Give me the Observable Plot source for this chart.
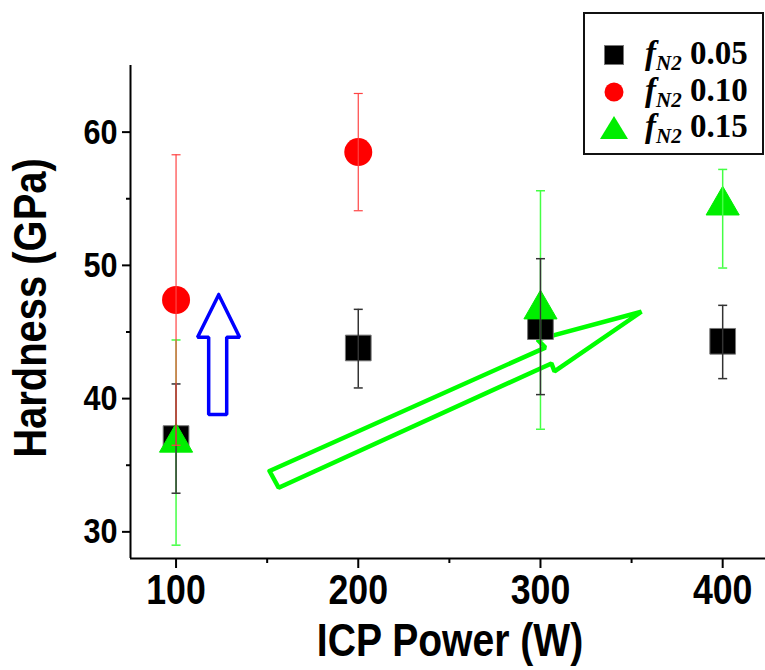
<!DOCTYPE html>
<html>
<head>
<meta charset="utf-8">
<script src="https://cdn.jsdelivr.net/npm/d3@7"></script>
<script src="https://cdn.jsdelivr.net/npm/@observablehq/plot@0.6"></script>
<style>
  html, body { margin: 0; padding: 0; background: #fff; }
  #wrap { position: relative; width: 765px; height: 670px; overflow: hidden; }
  #legend {
    position: absolute; left: 583px; top: 12px; width: 177px; height: 139px;
    border: 2px solid #111; background: #fff;
    font-family: "Liberation Serif", "Times New Roman", serif; font-weight: bold; font-size: 33px;
  }
  .row { position: absolute; left: 0; height: 36px; display: flex; align-items: center; }
  .row svg { width: 40px; height: 36px; margin-left: 9px; }
  .row span { margin-left: 11px; white-space: nowrap; line-height: 1; }
  .row sub { font-size: 21px; font-style: italic; vertical-align: -6px; }
</style>
</head>
<body>
<div id="wrap"></div>
<script>
// ---- data ----
const power005 = [100, 200, 300, 400];
const hard005  = [37.0, 43.8, 45.4, 44.3];
const lo005    = [32.9, 40.8, 40.3, 41.5];
const hi005    = [41.1, 46.7, 50.5, 47.0];

const power010 = [100, 200];
const hard010  = [47.4, 58.5];
const lo010    = [36.5, 54.1];
const hi010    = [58.3, 62.9];

const power015 = [100, 300, 400];
const hard015  = [36.7, 46.7, 54.5];
const lo015    = [29.0, 37.7, 49.8];
const hi015    = [44.4, 55.6, 57.2];

const xMajor = [100, 200, 300, 400];
const xMinor = [150, 250, 350];
const yMajor = [30, 40, 50, 60];
const yMinor = [35, 45, 55];

const seriesLabels = ["0.05", "0.10", "0.15"];

// annotation arrows, in data units (W, GPa)
const blueArrowX = [123.4, 134.9, 127.8, 127.8, 117.9, 117.9, 111.8, 123.4];
const blueArrowY = [47.8, 44.6, 44.6, 38.8, 38.8, 44.6, 44.6, 47.8];
const greenArrowX = [151.3, 302.7, 298.4, 355.4, 307.7, 306.0, 156.3, 151.3];
const greenArrowY = [34.57, 43.83, 44.43, 46.52, 42.04, 42.64, 33.31, 34.57];

// ---- build tables ----
const mk = (xs, ys, lo, hi) => xs.map((x, i) => ({x, y: ys[i], lo: lo[i], hi: hi[i]}));
const s005 = mk(power005, hard005, lo005, hi005);
const s010 = mk(power010, hard010, lo010, hi010);
const s015 = mk(power015, hard015, lo015, hi015);
const blueArrow = blueArrowX.map((x, i) => ({x, y: blueArrowY[i]}));
const greenArrow = greenArrowX.map((x, i) => ({x, y: greenArrowY[i]}));

const cap = { draw(ctx) { ctx.moveTo(-4.5, 0); ctx.lineTo(4.5, 0); } };

const sans = "'Liberation Sans', Arial, Helvetica, sans-serif";

function errMarks(data, color, w) {
  return [
    Plot.ruleX(data, {x: "x", y1: "lo", y2: "hi", stroke: color, strokeWidth: w}),
    Plot.dot(data, {x: "x", y: "lo", symbol: cap, stroke: color, strokeWidth: w, fill: "none", r: 3}),
    Plot.dot(data, {x: "x", y: "hi", symbol: cap, stroke: color, strokeWidth: w, fill: "none", r: 3})
  ];
}

const chart = Plot.plot({
  width: 765,
  height: 670,
  marginLeft: 130,
  marginRight: 0,
  marginTop: 65,
  marginBottom: 112,
  x: {domain: [75, 423.5]},
  y: {domain: [28, 65]},
  style: {background: "white", color: "black", overflow: "visible"},
  marks: [
    // annotations
    Plot.line(greenArrow, {x: "x", y: "y", stroke: "#00ff00", strokeWidth: 4.5, fill: "white", strokeLinejoin: "miter"}),
    Plot.line(blueArrow, {x: "x", y: "y", stroke: "#0000ff", strokeWidth: 3.5, fill: "white", strokeLinejoin: "miter"}),
    // markers
    Plot.dot(s005, {x: "x", y: "y", symbol: "square", r: 14.5, fill: "black", stroke: "#777", strokeWidth: 1}),
    Plot.dot(s010, {x: "x", y: "y", symbol: "circle", r: 14, fill: "#ff0000"}),
    Plot.dot(s015, {x: "x", y: "y", symbol: "triangle", r: 12.3, fill: "#00ee00", stroke: "#00ee00", strokeWidth: 1}),
    // error bars
    ...errMarks(s015, "#44ff44", 1.5),
    ...errMarks(s005, "#333", 1.5),
    ...errMarks(s010, "#ff4444", 1.2),
    // axes
    Plot.axisY({ticks: yMajor, tickSize: 8, tickPadding: 5, strokeWidth: 2, fontSize: 36, fontWeight: "bold", fontFamily: sans, label: null}),
    Plot.axisY({ticks: yMinor, tickSize: 4, strokeWidth: 2, text: null, label: null}),
    Plot.axisX({ticks: xMajor, tickSize: 10, tickPadding: 6, strokeWidth: 2, fontSize: 42, fontWeight: "bold", fontFamily: sans, label: null}),
    Plot.axisX({ticks: xMinor, tickSize: 5, strokeWidth: 2, text: null, label: null}),
    Plot.ruleX([75], {stroke: "black", strokeWidth: 2}),
    Plot.ruleY([28], {stroke: "black", strokeWidth: 2}),
    Plot.text(["Hardness (GPa)"], {frameAnchor: "left", textAnchor: "middle", rotate: -90, dx: -100, dy: -4, fontSize: 47, fontWeight: "bold", fontFamily: sans, fill: "black"}),
    Plot.text(["ICP Power (W)"], {frameAnchor: "bottom", textAnchor: "middle", dx: 2, dy: 97, fontSize: 46, fontWeight: "bold", fontFamily: sans, fill: "black"})
  ]
});

const wrap = document.getElementById("wrap");
wrap.appendChild(chart);

// condense the sans-serif texts horizontally about their anchor (the reference uses a narrow face)
d3.select(chart).selectAll("text").each(function () {
  const el = this;
  const fs = parseFloat(getComputedStyle(el).fontSize) || 10;
  const xa = el.getAttribute("x");
  let X = 0;
  if (xa != null) X = /em$/.test(xa) ? parseFloat(xa) * fs : (parseFloat(xa) || 0);
  const t = el.getAttribute("transform") || "";
  el.setAttribute("transform", `${t} translate(${X},0) scale(0.85,1) translate(${-X},0)`);
});

// legend (real text)
const legend = document.createElement("div");
legend.id = "legend";
const symbols = [
  '<rect x="10.5" y="8.5" width="19" height="19" fill="black" stroke="#777" stroke-width="1"/>',
  '<circle cx="20" cy="18" r="9.5" fill="#ff0000"/>',
  '<path d="M20,6 L34,29 L6,29 Z" fill="#00ee00"/>'
];
const tops = [23, 60, 96];
seriesLabels.forEach((lab, i) => {
  const row = document.createElement("div");
  row.className = "row";
  row.style.top = tops[i] + "px";
  row.innerHTML = `<svg viewBox="0 0 40 36">${symbols[i]}</svg><span><i>f</i><sub>N2</sub> ${lab}</span>`;
  legend.appendChild(row);
});
wrap.appendChild(legend);
</script>
</body>
</html>
